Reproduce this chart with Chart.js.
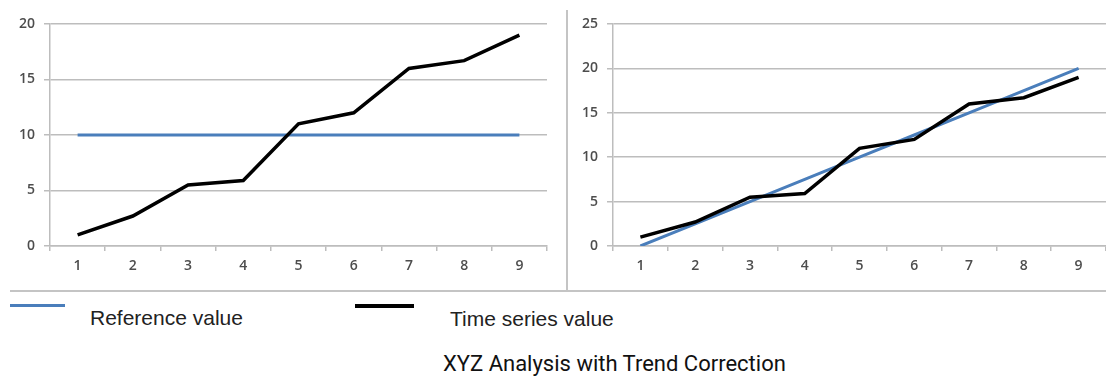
<!DOCTYPE html>
<html>
<head>
<meta charset="utf-8">
<script src="https://cdn.jsdelivr.net/npm/chart.js"></script>
<style>
  html,body{margin:0;padding:0;background:#fff;}
  #page{position:relative;width:1106px;height:376px;overflow:hidden;font-family:"Liberation Sans",Arial,sans-serif;color:#222;}
  .box{position:absolute;top:0;height:291px;}
  #leftBox{left:0;width:560px;}
  #rightBox{left:570px;width:536px;}
  #vline{position:absolute;left:566px;top:10px;width:2px;height:281px;background:#c4c4c4;}
  #hline{position:absolute;left:10px;top:290px;width:1096px;height:2px;background:#c4c4c4;}
  .swatch{position:absolute;}
  .lbl{position:absolute;font-size:21px;line-height:24px;white-space:nowrap;color:#222;}
  #title{position:absolute;left:443px;top:351px;font-family:Roboto,"Noto Sans",sans-serif;font-size:22px;line-height:26px;color:#111;white-space:nowrap;}
</style>
</head>
<body>
<div id="page">
  <div class="box" id="leftBox"><canvas id="chartLeft"></canvas></div>
  <div class="box" id="rightBox"><canvas id="chartRight"></canvas></div>
  <div id="vline"></div>
  <div id="hline"></div>
  <div class="swatch" style="left:10px;top:304px;width:55px;height:3px;background:#4A7EBB"></div>
  <div class="lbl" style="left:90px;top:306px">Reference value</div>
  <div class="swatch" style="left:355px;top:304px;width:59px;height:4px;background:#000"></div>
  <div class="lbl" style="left:450px;top:307px">Time series value</div>
  <div id="title">XYZ Analysis with Trend Correction</div>
</div>
<script>
// values
const periods = ['1','2','3','4','5','6','7','8','9'];
const timeSeries = [1, 2.7, 5.5, 5.9, 11, 12, 16, 16.7, 19];
const refFlat = [10, 10, 10, 10, 10, 10, 10, 10, 10];
const refTrend = [0, 2.5, 5, 7.5, 10, 12.5, 15, 17.5, 20];
const leftTicks = {min:0, max:20, step:5};
const rightTicks = {min:0, max:25, step:5};

const BLUE='#4A7EBB', GRID='#bdbdbd', TICK='#4d4d4d';
const tickFont = { family:'"Open Sans", "Liberation Sans", Arial', size:14, weight:'600' };

function makeChart(id, reference, range, yWidth, pad){
    return new Chart(document.getElementById(id), {
        type:'line',
        data:{
            labels: periods,
            datasets:[
                { label:'Time series value', data:timeSeries, borderColor:'#000', borderWidth:3.5, pointRadius:0, order:0 },
                { label:'Reference value', data:reference, borderColor:BLUE, borderWidth:3, pointRadius:0, order:1 }
            ]
        },
        options:{
            responsive:true, maintainAspectRatio:false, animation:false,
            layout:{ padding:{ top:24, right:pad, left:0, bottom:0 } },
            plugins:{ legend:{display:false}, tooltip:{enabled:false} },
            scales:{
                x:{
                    offset:true,
                    grid:{ offset:true, drawOnChartArea:false, drawTicks:true, tickLength:5, color:GRID, lineWidth:1.5 },
                    border:{ color:GRID, width:1.5 },
                    ticks:{ color:TICK, padding:7, font:tickFont },
                    afterFit(s){ s.height=45; }
                },
                y:{
                    min:range.min, max:range.max,
                    grid:{ color:GRID, lineWidth:1.5, tickLength:6 },
                    border:{ color:GRID, width:1.5 },
                    ticks:{ stepSize:range.step, color:TICK, padding:9, font:tickFont },
                    afterFit(s){ s.width=yWidth; }
                }
            }
        }
    });
}

makeChart('chartLeft', refFlat, leftTicks, 50, 13);
makeChart('chartRight', refTrend, rightTicks, 43, 0);
</script>
</body>
</html>
